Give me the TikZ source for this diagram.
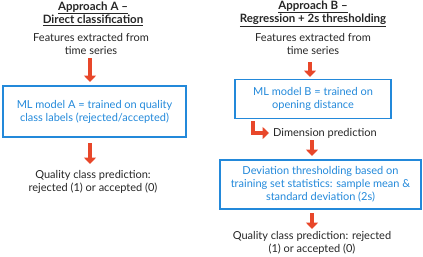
\documentclass[tikz,border=0pt]{standalone}
\usepackage{fontspec}
\setmainfont{Lato}
\usetikzlibrary{arrows.meta}
\definecolor{bblue}{HTML}{2389DA}
\definecolor{ared}{HTML}{E8472A}
\begin{document}
\begin{tikzpicture}[x=1pt,y=-1pt,
  txt/.style={align=center,inner sep=0pt,font=\fontsize{11}{13}\selectfont,text=black!85},
  ttl/.style={align=center,inner sep=0pt,font=\fontsize{11.5}{13}\selectfont\bfseries,text=black!85},
  box/.style={draw=bblue,line width=1.2pt,align=center,inner sep=0pt,text=bblue,font=\fontsize{11}{13}\selectfont},
  arr/.style={draw=ared,line width=4.5pt,-{Triangle[width=12pt,length=6.5pt]}}]
\useasboundingbox (0,0) rectangle (423,257);
% Approach A
\node[ttl] (tA) at (93,13.5) {\underline{Approach A –}\\\underline{Direct classification}};
\node[txt] (fA) at (91,43.5) {Features extracted from\\time series};
\node[box,minimum width=183pt,minimum height=51pt] (mA) at (94.5,111.5) {ML model A = trained on quality\\class labels (rejected/accepted)};
\node[txt] (qA) at (93,181.5) {Quality class prediction:\\rejected (1) or accepted (0)};
\coordinate (sA1) at (90,58);
\coordinate (eA1) at (90,82);
\coordinate (sA2) at (90,143);
\coordinate (eA2) at (90,164);
\draw[arr] (sA1) -- (eA1);
\draw[arr] (sA2) -- (eA2);
% Approach B
\node[ttl] (tB) at (313,13.5) {\underline{Approach B –}\\\underline{Regression + 2s thresholding}};
\node[txt] (fB) at (313,43.5) {Features extracted from\\time series};
\node[box,minimum width=156pt,minimum height=39pt] (mB) at (313,99) {ML model B = trained on\\opening distance};
\node[txt,anchor=west] (dim) at (273,133) {Dimension prediction};
\node[box,minimum width=201pt,minimum height=49pt] (mC) at (320.5,184.5) {Deviation thresholding based on\\training set statistics: sample mean \&\\standard deviation (2s)};
\node[txt] (qB) at (312,243) {Quality class prediction: rejected\\(1) or accepted (0)};
\coordinate (b1) at (253,121);
\coordinate (b2) at (269,133);
\draw[arr] (b1) |- (b2);
\coordinate (a1) at (310,62);
\coordinate (a1e) at (310,77);
\draw[arr] (a1) -- (a1e);
\coordinate (a2) at (312,140);
\coordinate (a2e) at (312,156);
\draw[arr] (a2) -- (a2e);
\coordinate (a3) at (312,213);
\coordinate (a3e) at (312,229);
\draw[arr] (a3) -- (a3e);
\end{tikzpicture}
\end{document}
